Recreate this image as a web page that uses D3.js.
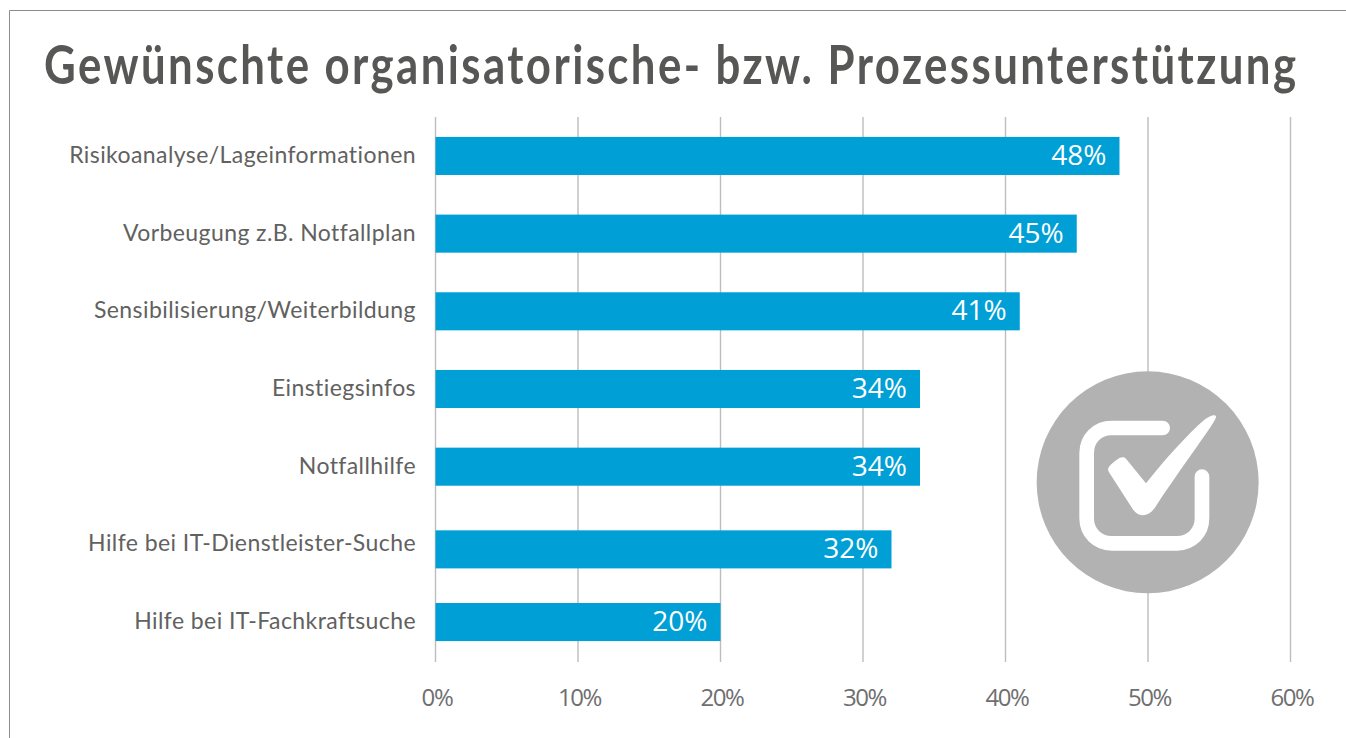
<!DOCTYPE html>
<html><head><meta charset="utf-8">
<script src="https://cdn.jsdelivr.net/npm/d3@7/dist/d3.min.js"></script>
<style>html,body{margin:0;padding:0;background:#fff;overflow:hidden}svg{display:block}</style>
</head><body><svg id="c" width="1346" height="738"></svg>
<script>
const titleText = "Gewünschte organisatorische- bzw. Prozessunterstützung";
const categories = ["Risikoanalyse/Lageinformationen","Vorbeugung z.B. Notfallplan","Sensibilisierung/Weiterbildung","Einstiegsinfos","Notfallhilfe","Hilfe bei IT-Dienstleister-Suche","Hilfe bei IT-Fachkraftsuche"];
const values = [48,45,41,34,34,32,20];
const ticks = [0,10,20,30,40,50,60];

const svg = d3.select("#c");
const x = d3.scaleLinear().domain([0,60]).range([435.5,1290.5]);
const y = d3.scaleBand().domain(categories).range([117.5,660.5]).paddingInner(0.51).paddingOuter(0.25);
// the source slide has this one bar shifted down from its row, its label stays put
const barShift = c => c === "Hilfe bei IT-Dienstleister-Suche" ? 5 : 0;

// slide frame
svg.append("path").attr("d","M9.5 738V10.5H1346").attr("fill","none").attr("stroke","#8c8c8c").attr("stroke-width",1);

// title: narrower glyphs with open tracking, squeezed horizontally to the source width
const title = svg.append("text").attr("font-family","Lato").attr("font-weight",700)
  .attr("font-size",54).attr("letter-spacing","3px").attr("fill","#575756").text(titleText);
const titleLen = title.node().getComputedTextLength();
title.attr("transform",`translate(44,84) scale(${1255/titleLen},1)`);

// grid
svg.append("g").selectAll("line").data(ticks).join("line")
  .attr("x1",d=>x(d)).attr("x2",d=>x(d)).attr("y1",117).attr("y2",662)
  .attr("stroke","#bdbdbd").attr("stroke-width",1.4);

// tick labels
svg.append("g").selectAll("text").data(ticks).join("text")
  .attr("x",d=>x(d)+1.5).attr("y",706).attr("text-anchor","middle")
  .attr("font-family","Open Sans").attr("font-size",24).attr("letter-spacing","-1.4px").attr("fill","#6f6f6f")
  .text(d=>d+"%");

// bars
svg.append("g").selectAll("rect").data(categories).join("rect")
  .attr("x",x(0)).attr("y",c=>y(c)+barShift(c))
  .attr("width",(c,i)=>x(values[i])-x(0)).attr("height",y.bandwidth()).attr("fill","#009fd6");

// category labels
svg.append("g").selectAll("text").data(categories).join("text")
  .attr("x",416).attr("y",c=>y(c)+y.bandwidth()/2+7).attr("text-anchor","end")
  .attr("font-family","Lato").attr("font-size",23).attr("letter-spacing","0.42px").attr("fill","#616160")
  .text(c=>c);

// value labels
svg.append("g").selectAll("text").data(categories).join("text")
  .attr("x",(c,i)=>x(values[i])-13).attr("y",c=>y(c)+barShift(c)+y.bandwidth()/2+9).attr("text-anchor","end")
  .attr("font-family","Open Sans").attr("font-size",28).attr("fill","#fff")
  .text((c,i)=>values[i]+"%");

// check-mark badge
const badge = svg.append("g").attr("transform","translate(1000,350) scale(0.3333)");
badge.append("circle").attr("cx",443).attr("cy",397).attr("r",333).attr("fill","#b2b2b2");
badge.append("path").attr("d","M488 234H335C292 234 260 266 260 309V505C260 548 292 580 335 580H531C574 580 606 548 606 505V380")
  .attr("fill","none").attr("stroke","#fff").attr("stroke-width",44).attr("stroke-linecap","round");
badge.append("path").attr("d","M328 368C320 358 326 350 335 342C350 328 366 314 378 326L438 400C490 335 560 255 615 208C630 196 650 190 648 202C644 220 560 330 470 465C450 500 420 505 400 480Z")
  .attr("fill","#fff");
</script></body></html>
